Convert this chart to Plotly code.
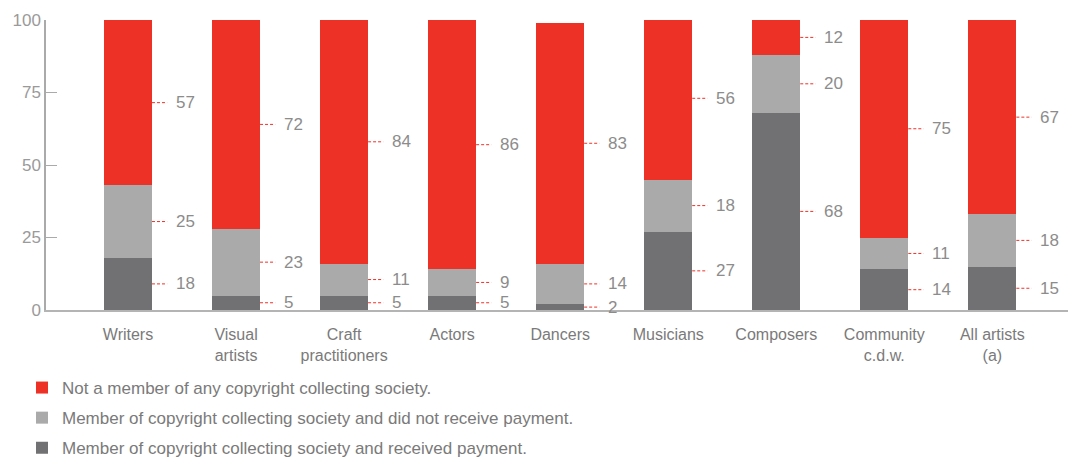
import plotly.graph_objects as go

# Share of artists by copyright collecting society membership (%)
categories = ["Writers", "Visual<br>artists", "Craft<br>practitioners", "Actors", "Dancers",
              "Musicians", "Composers", "Community<br>c.d.w.", "All artists<br>(a)"]
received_payment = [18, 5, 5, 5, 2, 27, 68, 14, 15]
no_payment = [25, 23, 11, 9, 14, 18, 20, 11, 18]
not_member = [57, 72, 84, 86, 83, 56, 12, 75, 67]

series_names = [
    "Member of copyright collecting society and received payment.",
    "Member of copyright collecting society and did not receive payment.",
    "Not a member of any copyright collecting society.",
]
series_values = [received_payment, no_payment, not_member]
series_colors = ["#717072", "#aaaaab", "#ee3127"]
legend_ranks = [3, 2, 1]

LABEL_COLOR = "#8c8c8c"
LEADER_COLOR = "#ee3127"
FONT = "Liberation Sans, Arial, sans-serif"
BAR_W = 0.444

# plot area in pixels (used to place the legend below it)
PLOT_L, PLOT_R, PLOT_T, PLOT_B = 46, 1068, 20, 310
PW, PH = PLOT_R - PLOT_L, PLOT_B - PLOT_T

xs = list(range(len(categories)))

fig = go.Figure()
for i, (name, vals, col, rank) in enumerate(zip(series_names, series_values,
                                                 series_colors, legend_ranks)):
    fig.add_trace(go.Bar(
        x=xs, y=vals, name=name, width=BAR_W,
        marker=dict(color=col, line=dict(width=0)),
        legendgroup=f"g{i}", legendrank=rank, hoverinfo="y",
    ))

# Value labels with short dashed leaders at the middle of each segment
for j in xs:
    base = 0
    for vals in series_values:
        v = vals[j]
        mid = base + v / 2
        base += v
        x0 = j + BAR_W / 2
        fig.add_shape(type="line", xref="x", yref="y",
                      x0=x0, x1=x0 + 0.14, y0=mid, y1=mid,
                      line=dict(color=LEADER_COLOR, width=1, dash="3px,2px"))
        fig.add_annotation(x=x0 + 0.204, y=mid, xref="x", yref="y",
                           text=str(v), showarrow=False,
                           xanchor="left", yanchor="middle",
                           font=dict(size=17, color=LABEL_COLOR, family=FONT))

fig.update_layout(
    width=1072, height=460,
    barmode="stack",
    paper_bgcolor="white", plot_bgcolor="white",
    margin=dict(l=PLOT_L, r=1072 - PLOT_R, t=PLOT_T, b=460 - PLOT_B, autoexpand=False),
    font=dict(family=FONT, color=LABEL_COLOR),
    showlegend=True,
    legend=dict(
        orientation="v", traceorder="grouped",
        x=(22 - PLOT_L) / PW, xanchor="left",
        y=(PLOT_B - 370) / PH, yanchor="top",
        font=dict(size=17, color="#7a7a7a", family=FONT),
        tracegroupgap=5, itemsizing="constant",
        bgcolor="rgba(0,0,0,0)",
    ),
    xaxis=dict(
        tickmode="array", tickvals=xs, ticktext=categories, tickangle=0,
        range=[-0.759, 8.70],
        showline=True, linecolor="#b4b4b4", linewidth=1.5,
        showgrid=False, zeroline=False, ticks="",
        ticklabelstandoff=9,
        tickfont=dict(size=16, color="#7a7a7a", family=FONT),
        fixedrange=True,
    ),
    yaxis=dict(
        range=[0, 100], tickvals=[0, 25, 50, 75, 100],
        showline=True, linecolor="#aaaaaa", linewidth=1.5,
        showgrid=False, zeroline=False,
        ticks="inside", ticklen=11, tickcolor="#aaaaaa", tickwidth=1,
        tickfont=dict(size=17, color="#9a9a9a", family=FONT),
        fixedrange=True,
    ),
)

fig.write_html("out.html")
